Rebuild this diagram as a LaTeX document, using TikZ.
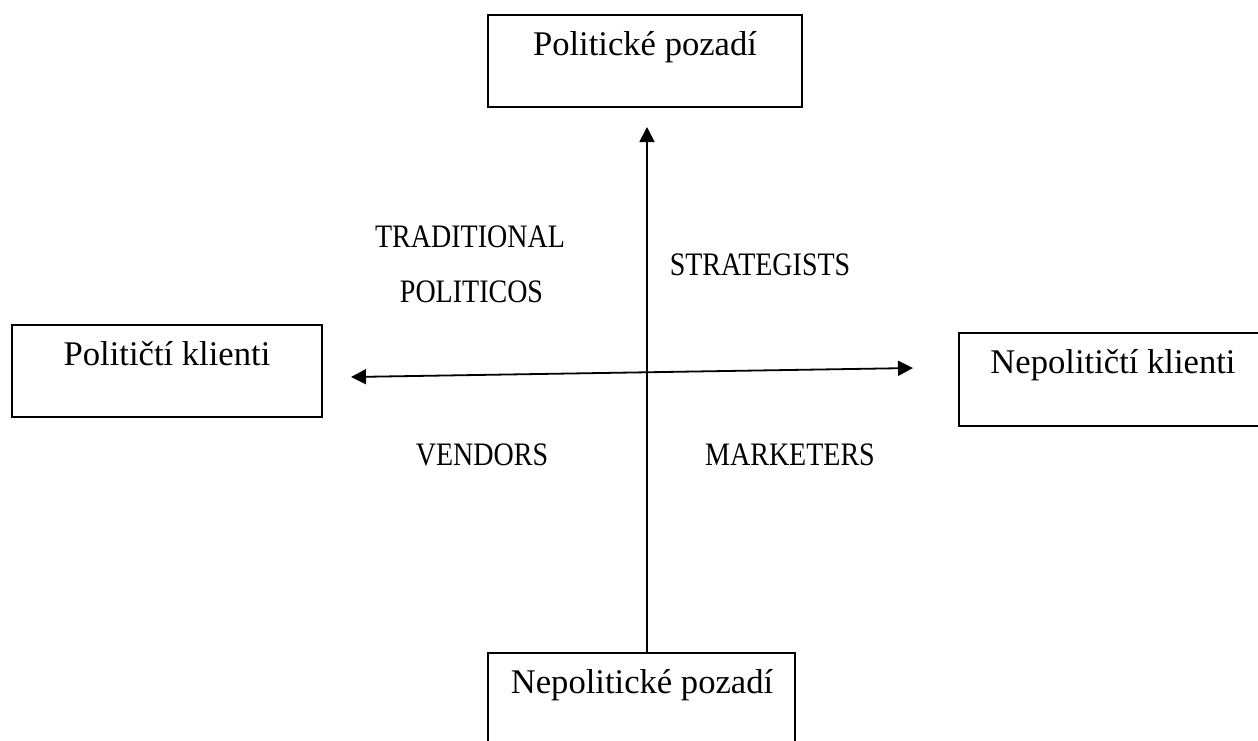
\documentclass[tikz,border=0pt]{standalone}
\usepackage{fontspec}
\usepackage{graphicx}
\setmainfont{Liberation Serif}
\usetikzlibrary{arrows.meta}
\tikzset{
  boxnode/.style={draw, line width=1.6pt, rectangle, inner sep=0pt, outer sep=0pt},
  boxtext/.style={anchor=base, inner sep=0pt, font=\fontsize{34.6}{40}\selectfont},
  quadtext/.style={anchor=base, inner sep=0pt, font=\fontsize{28}{32}\selectfont},
  axis/.style={line width=1.8pt, -{Triangle[length=15pt,width=15pt]}},
}
\newcommand{\tallcaps}[1]{\scalebox{1}[1.17]{#1}}
\begin{document}
\begin{tikzpicture}[x=1pt,y=-1pt]
\useasboundingbox (0,0) rectangle (1258,740);
\clip (0,0) rectangle (1258,740);
\fill[white] (0,0) rectangle (1258,740);
% boxes
\node[boxnode, minimum width=314pt, minimum height=92pt] (top) at (645,61) {};
\node[boxnode, minimum width=310pt, minimum height=92pt] (left) at (167,371) {};
\node[boxnode, minimum width=318pt, minimum height=93pt] (right) at (1118,379.5) {};
\node[boxnode, minimum width=307pt, minimum height=110pt] (bottom) at (641.5,708) {};
% box texts
\node[boxtext] (toptext) at (645,55) {Politické pozadí};
\node[boxtext] (lefttext) at (167,365) {Političtí klienti};
\node[boxtext] (righttext) at (1113,373) {Nepolitičtí klienti};
\node[boxtext] (bottomtext) at (642,693) {Nepolitické pozadí};
% quadrant labels
\node[quadtext] (trad1) at (470,247) {\tallcaps{TRADITIONAL}};
\node[quadtext] (trad2) at (471.5,302) {\tallcaps{POLITICOS}};
\node[quadtext] (strat) at (760,275) {\tallcaps{STRATEGISTS}};
\node[quadtext] (vend) at (482,465) {\tallcaps{VENDORS}};
\node[quadtext] (mark) at (790,465) {\tallcaps{MARKETERS}};
% axes
\coordinate (vbot) at (647,653);
\coordinate (vtop) at (647,127);
\coordinate (hleft) at (351,377);
\coordinate (hright) at (913,368);
\draw[axis] (vbot) -- (vtop);
\draw[axis, {Triangle[length=15pt,width=15pt]}-{Triangle[length=15pt,width=15pt]}] (hleft) -- (hright);
\end{tikzpicture}
\end{document}
